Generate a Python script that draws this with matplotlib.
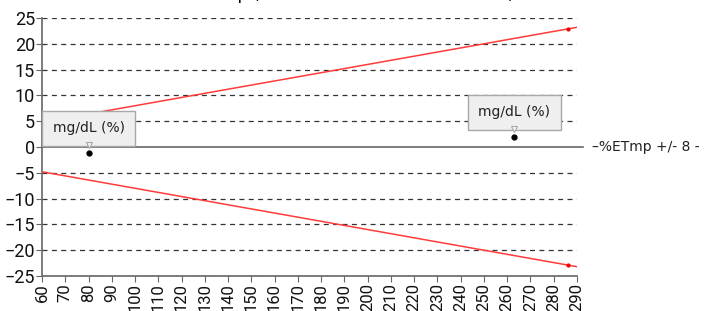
import matplotlib.pyplot as plt
from matplotlib import transforms

# limit lines (+/- 8 %)
limit_x = [60, 290]
upper = [4.8, 23.2]
lower = [-4.8, -23.2]
end_x = [286]
upper_end = [22.9]
lower_end = [-22.9]

# measured points
pts_x = [80, 263]
pts_y = [-1.1, 2.0]
pts_label = ["mg/dL (%)", "mg/dL (%)"]

xticks = list(range(60, 300, 10))
yticks = list(range(-25, 30, 5))

fig = plt.figure(figsize=(7.06, 3.11), dpi=100)
ax = fig.add_axes([42 / 706, 35 / 311, 535 / 706, 258 / 311])

for y in yticks:
    if y != 0:
        ax.axhline(y, color="#333333", lw=0.9, ls=(0, (4, 3.5)), zorder=1)
ax.plot([60, 292.5], [0, 0], color="#666666", lw=1.2, clip_on=False, zorder=2)

ax.plot(limit_x, upper, color="#ff3b3b", lw=1.1, zorder=3)
ax.plot(limit_x, lower, color="#ff3b3b", lw=1.1, zorder=3)
ax.plot(end_x, upper_end, "o", color="#ee0000", ms=2, zorder=4)
ax.plot(end_x, lower_end, "o", color="#ee0000", ms=2, zorder=4)

ax.plot(pts_x, pts_y, "o", color="black", ms=3.5, zorder=6)
shift = transforms.ScaledTranslation(0, 5.5 / 72, fig.dpi_scale_trans)
for x, y, lab in zip(pts_x, pts_y, pts_label):
    ax.annotate(lab, (x, y), xytext=(0, 17.5), textcoords="offset points",
                ha="center", va="center", fontsize=10, family="DejaVu Sans",
                color="#222222", zorder=7,
                bbox=dict(boxstyle="square,pad=0.75", fc="#efefef", ec="#a8a8a8", lw=1))
    ax.plot([x], [y], marker="v", ms=5, color="#f4f4f4", mec="#a8a8a8",
            mew=0.8, ls="none", zorder=8, transform=ax.transData + shift)

ax.set_xlim(60, 290)
ax.set_ylim(-25, 25)
ax.set_xticks(xticks)
ax.set_yticks(yticks)
ax.tick_params(axis="x", labelrotation=90, labelsize=12, length=4, color="#666666", pad=1)
ax.tick_params(axis="y", labelsize=13, length=4, color="#666666", pad=1)
for lab in ax.get_xticklabels() + ax.get_yticklabels():
    lab.set_family("Roboto")
    lab.set_color("#111111")
for s in ["top", "right"]:
    ax.spines[s].set_visible(False)
for s in ["left", "bottom"]:
    ax.spines[s].set_color("#666666")
    ax.spines[s].set_linewidth(1.2)

fig.text(592 / 706, 1 - 147 / 311, "\u2013%ETmp +/- 8 -", fontsize=10,
         va="center", ha="left", color="#222222")
fig.text(350 / 706, 1.0 + 1.0 / 311, "%ETmp (Meter Result Minus Reference)",
         fontsize=12, ha="center", va="baseline")

fig.savefig("out.png", dpi=100)
